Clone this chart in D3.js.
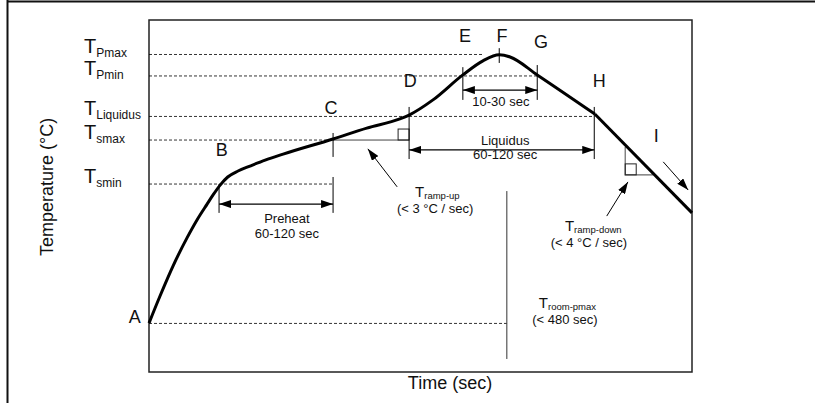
<!DOCTYPE html>
<html>
<head>
<meta charset="utf-8">
<script src="https://cdn.jsdelivr.net/npm/d3@7/dist/d3.min.js"></script>
<style>
  body { margin: 0; background: #fff; }
  text { font-family: Arial, "Liberation Sans", sans-serif; fill: #111; }
</style>
</head>
<body>
<div id="chart"></div>
<script>
// Niveles de temperatura (unidades relativas 0-100)
const levelNames = ["Pmax", "Pmin", "Liquidus", "smax", "smin"];
const levelTemps = [90.2, 84.1, 72.6, 65.9, 53.4];
const levelEnds = [61.5, 71.5, 82.0, 33.9, 33.9];
const roomTemp = 13.8;
const roomTime = 65.9;

// Perfil de soldadura (tiempo relativo, temperatura relativa)
const profileTime = [0, 2.03, 4.42, 7.0, 8.84, 10.7, 11.8, 13.1, 14.5, 16.4, 18.6, 21.4, 24.7, 33.9, 40.1, 46.2, 47.9, 52.3, 57.8, 61.5, 64.5, 66.5, 71.5, 82.1];
const profileTemp = [13.9, 21.6, 30.1, 38.1, 43.2, 47.7, 50.3, 53.1, 55.4, 57.1, 58.5, 60.2, 61.9, 66.2, 69.3, 71.9, 73.0, 77.3, 84.4, 88.4, 90.1, 89.5, 84.4, 73.3];
const coolTime = [82.1, 100];
const coolTemp = [73.3, 45.2];

// Etiquetas de puntos
const pointNames = ["A", "B", "C", "D", "E", "F", "G", "H", "I"];
const pointTime = [-2.6, 13.4, 33.5, 48.1, 58.2, 65.0, 72.2, 82.9, 93.4];
const pointTemp = [13.9, 61.4, 73.3, 81.0, 93.75, 93.75, 92.0, 81.0, 65.3];

// Marcas verticales
const tickTime = [12.9, 33.9, 33.9, 47.9, 82.0, 57.8, 71.5, 64.5];
const tickFrom = [53.4, 55.4, 61.1, 60.5, 60.5, 77.3, 77.3, 87.8];
const tickTo = [45.2, 45.2, 67.9, 75.3, 75.3, 86.6, 87.2, 92.0];

// Intervalos con flecha doble
const spanStart = [12.9, 47.9, 57.8];
const spanEnd = [33.9, 82.0, 71.5];
const spanTemp = [47.7, 63.1, 80.1];
const spanLabel1 = ["Preheat", "Liquidus", "10-30 sec"];
const spanLabel2 = ["60-120 sec", "60-120 sec", ""];
const spanLabelTime = [25.4, 65.6, 64.8];
const spanLabelTemp = [42.3, 64.5, 75.6];

// Flechas simples (cola -> punta)
const arrowFromTime = [45.7, 84.3, 94.7];
const arrowFromTemp = [52.6, 44.3, 59.7];
const arrowToTime = [40.3, 88.2, 99.3];
const arrowToTemp = [63.4, 54.0, 51.7];

// Notas de rampa
const noteSubs = ["ramp-up", "ramp-down", "room-pmax"];
const noteTime = [49.0, 76.6, 71.8];
const noteTemp = [49.6, 40.0, 18.1];
const noteText = ["(< 3 °C / sec)", "(< 4 °C / sec)", "(< 480 sec)"];
const noteTextTime = [52.7, 81.0, 76.6];
const noteTextTemp = [45.3, 35.6, 13.7];

const width = 815, height = 403;
const plot = { left: 149, top: 20, right: 692, bottom: 372 };

const x = d3.scaleLinear().domain([0, 100]).range([plot.left, plot.right]);
const y = d3.scaleLinear().domain([0, 100]).range([plot.bottom, plot.top]);

const svg = d3.select("#chart")
    .append("svg")
    .attr("width", width)
    .attr("height", height);

// Flechas
svg.append("defs").append("marker")
    .attr("id", "head")
    .attr("viewBox", "0 0 12 8")
    .attr("refX", 12).attr("refY", 4)
    .attr("markerWidth", 12).attr("markerHeight", 8)
    .attr("markerUnits", "userSpaceOnUse")
    .attr("orient", "auto-start-reverse")
    .append("path").attr("d", "M0,0L12,4L0,8Z").attr("fill", "#000");

// Marco exterior
svg.append("line").attr("x1", 7).attr("x2", width).attr("y1", 1.5).attr("y2", 1.5)
    .attr("stroke", "#111").attr("stroke-width", 2);
svg.append("line").attr("x1", 7.5).attr("x2", 7.5).attr("y1", 0).attr("y2", height)
    .attr("stroke", "#111").attr("stroke-width", 2);

// Area del grafico
svg.append("rect")
    .attr("x", plot.left).attr("y", plot.top)
    .attr("width", plot.right - plot.left).attr("height", plot.bottom - plot.top)
    .attr("fill", "none").attr("stroke", "#222").attr("stroke-width", 1.5);

// Lineas discontinuas de niveles
const dash = "3,2";
levelTemps.forEach((t, i) => {
    svg.append("line")
        .attr("x1", x(0)).attr("x2", x(levelEnds[i]))
        .attr("y1", y(t)).attr("y2", y(t))
        .attr("stroke", "#000").attr("stroke-width", 0.8).attr("stroke-dasharray", dash);

    const lab = svg.append("text").attr("x", 84).attr("y", y(t) - 1);
    lab.append("tspan").attr("font-size", 20).text("T");
    lab.append("tspan").attr("font-size", 12).attr("dy", 4).text(levelNames[i]);
});

svg.append("line")
    .attr("x1", x(0)).attr("x2", x(roomTime))
    .attr("y1", y(roomTemp)).attr("y2", y(roomTemp))
    .attr("stroke", "#000").attr("stroke-width", 0.8).attr("stroke-dasharray", dash);

svg.append("line")
    .attr("x1", x(roomTime)).attr("x2", x(roomTime))
    .attr("y1", y(51.4)).attr("y2", y(3.7))
    .attr("stroke", "#333").attr("stroke-width", 1);

// Triangulos de rampa
svg.append("line")
    .attr("x1", x(33.9)).attr("x2", x(47.9))
    .attr("y1", y(65.9)).attr("y2", y(65.9))
    .attr("stroke", "#444").attr("stroke-width", 1);
svg.append("rect")
    .attr("x", x(47.9) - 11).attr("y", y(65.9) - 11)
    .attr("width", 11).attr("height", 11)
    .attr("fill", "none").attr("stroke", "#222").attr("stroke-width", 1);

svg.append("polyline")
    .attr("points", [[x(87.7), y(63.9)], [x(87.7), y(56.0)], [x(92.8), y(56.0)]].join(" "))
    .attr("fill", "none").attr("stroke", "#666").attr("stroke-width", 1.2);
svg.append("rect")
    .attr("x", x(87.7)).attr("y", y(56.0) - 11)
    .attr("width", 11).attr("height", 11)
    .attr("fill", "none").attr("stroke", "#222").attr("stroke-width", 1);

// Marcas verticales
tickTime.forEach((t, i) => {
    svg.append("line")
        .attr("x1", x(t)).attr("x2", x(t))
        .attr("y1", y(tickFrom[i])).attr("y2", y(tickTo[i]))
        .attr("stroke", "#000").attr("stroke-width", 1);
});

// Intervalos
spanStart.forEach((s, i) => {
    svg.append("line")
        .attr("x1", x(s)).attr("x2", x(spanEnd[i]))
        .attr("y1", y(spanTemp[i])).attr("y2", y(spanTemp[i]))
        .attr("stroke", "#000").attr("stroke-width", 1.2)
        .attr("marker-start", "url(#head)").attr("marker-end", "url(#head)");

    const txt = svg.append("text")
        .attr("x", x(spanLabelTime[i])).attr("y", y(spanLabelTemp[i]))
        .attr("text-anchor", "middle").attr("font-size", 13);
    txt.append("tspan").text(spanLabel1[i]);
    if (spanLabel2[i]) {
        txt.append("tspan").attr("x", x(spanLabelTime[i])).attr("dy", 14.5).text(spanLabel2[i]);
    }
});

// Flechas simples
arrowFromTime.forEach((t, i) => {
    svg.append("line")
        .attr("x1", x(t)).attr("y1", y(arrowFromTemp[i]))
        .attr("x2", x(arrowToTime[i])).attr("y2", y(arrowToTemp[i]))
        .attr("stroke", "#000").attr("stroke-width", 1)
        .attr("marker-end", "url(#head)");
});

// Curva del perfil
const line = d3.line().x(d => x(d[0])).y(d => y(d[1]));
svg.append("path")
    .datum(d3.zip(profileTime, profileTemp))
    .attr("d", line.curve(d3.curveMonotoneX))
    .attr("fill", "none").attr("stroke", "#000").attr("stroke-width", 3)
    .attr("stroke-linejoin", "round");
svg.append("path")
    .datum(d3.zip(coolTime, coolTemp))
    .attr("d", d3.line().x(d => x(d[0])).y(d => y(d[1])))
    .attr("fill", "none").attr("stroke", "#000").attr("stroke-width", 3)
    .attr("stroke-linecap", "butt");

// Letras de los puntos
pointNames.forEach((n, i) => {
    svg.append("text")
        .attr("x", x(pointTime[i])).attr("y", y(pointTemp[i]))
        .attr("text-anchor", "middle").attr("font-size", 18)
        .text(n);
});

// Notas
noteSubs.forEach((s, i) => {
    const lab = svg.append("text").attr("x", x(noteTime[i])).attr("y", y(noteTemp[i]));
    lab.append("tspan").attr("font-size", 15).text("T");
    lab.append("tspan").attr("font-size", 9.5).attr("dy", 2).text(s);

    svg.append("text")
        .attr("x", x(noteTextTime[i])).attr("y", y(noteTextTemp[i]))
        .attr("text-anchor", "middle").attr("font-size", 13)
        .text(noteText[i]);
});

// Titulos de ejes
svg.append("text")
    .attr("transform", `translate(53,187) rotate(-90)`)
    .attr("text-anchor", "middle").attr("font-size", 18)
    .text("Temperature (°C)");

svg.append("text")
    .attr("x", 450).attr("y", 389)
    .attr("text-anchor", "middle").attr("font-size", 18)
    .text("Time (sec)");
</script>
</body>
</html>
